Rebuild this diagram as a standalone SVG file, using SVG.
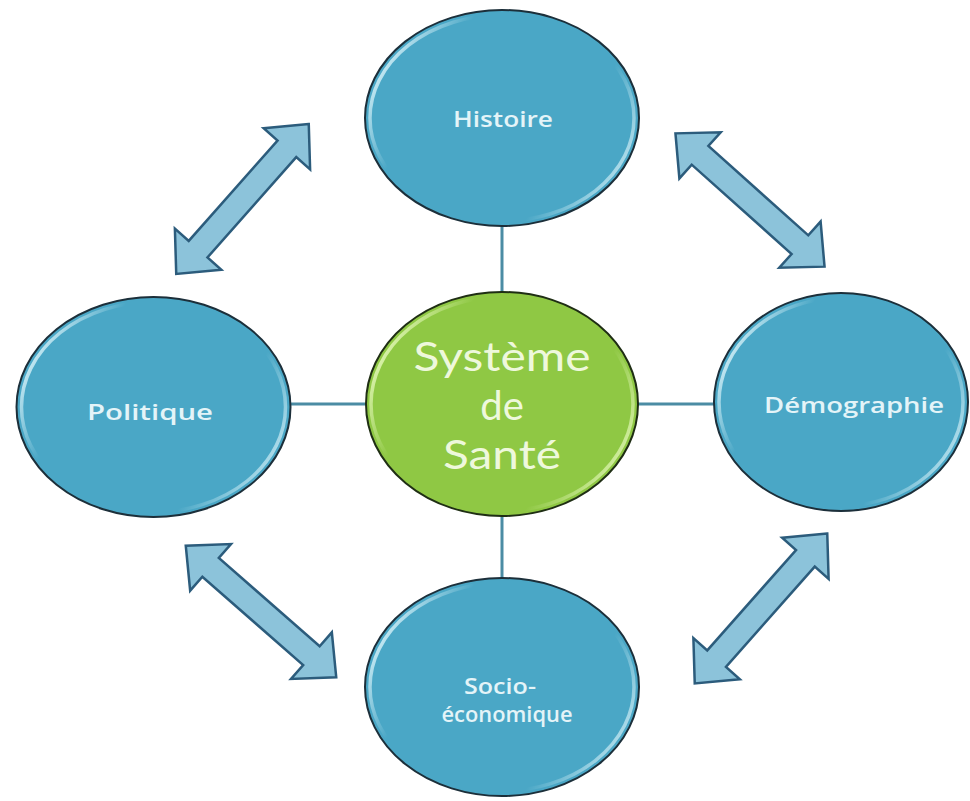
<svg xmlns="http://www.w3.org/2000/svg" xmlns:xlink="http://www.w3.org/1999/xlink" width="970" height="801" viewBox="0 0 970 801">
  <defs>
    <style>
      .blue { fill: #4aa7c6; stroke: #1c2f3a; stroke-width: 2; }
      .green { fill: #8fc844; stroke: #1f2e14; stroke-width: 2; }
      .rim { fill: none; stroke-width: 3.5; }
      .link { stroke: #4b8ca4; stroke-width: 3; fill: none; }
      .dbl { fill: #8cc3da; stroke: #2c5c7c; stroke-width: 2.5; stroke-linejoin: miter; }
      .lbl { font-family: "Open Sans", "Noto Sans", sans-serif; font-size: 21px; font-weight: 600; fill: #e4f4f8; text-anchor: middle; }
      .big { font-family: Lato, "Open Sans", sans-serif; font-size: 40px; fill: #eef8dc; text-anchor: middle; }
    </style>
    <linearGradient id="rimBlue" x1="0" y1="0.3" x2="1" y2="0.75">
      <stop offset="0" stop-color="#e8fbff" stop-opacity="0.85"/>
      <stop offset="0.22" stop-color="#e8fbff" stop-opacity="0"/>
      <stop offset="0.75" stop-color="#e8fbff" stop-opacity="0"/>
      <stop offset="1" stop-color="#e8fbff" stop-opacity="0.75"/>
    </linearGradient>
    <linearGradient id="rimGreen" x1="0" y1="0.3" x2="1" y2="0.75">
      <stop offset="0" stop-color="#efffc8" stop-opacity="0.85"/>
      <stop offset="0.22" stop-color="#efffc8" stop-opacity="0"/>
      <stop offset="0.75" stop-color="#efffc8" stop-opacity="0"/>
      <stop offset="1" stop-color="#efffc8" stop-opacity="0.8"/>
    </linearGradient>
    <!-- double-headed block arrow, 200 long, centred on the origin -->
    <path id="dblArrow" class="dbl" d="M100,0 L67,-31 L67,-12.5 L-67,-12.5 L-67,-31 L-100,0 L-67,31 L-67,12.5 L67,12.5 L67,31 Z"/>
  </defs>

  <rect width="970" height="801" fill="#ffffff"/>

  <!-- straight links from the hub to each satellite -->
  <g id="connectors">
    <line class="link" x1="502" y1="226" x2="502" y2="293"/>
    <line class="link" x1="502" y1="516" x2="502" y2="579"/>
    <line class="link" x1="288" y1="404" x2="367" y2="404"/>
    <line class="link" x1="637" y1="404" x2="716" y2="404"/>
  </g>

  <!-- two-way arrows between neighbouring satellites -->
  <g id="arrows">
    <use xlink:href="#dblArrow" transform="translate(242.5,199) rotate(-48.5)"/>
    <use xlink:href="#dblArrow" transform="translate(750,200) rotate(41.8)"/>
    <use xlink:href="#dblArrow" transform="translate(261,611.5) rotate(41.2)"/>
    <use xlink:href="#dblArrow" transform="translate(761,608.5) rotate(-48.5)"/>
  </g>

  <g id="histoire">
    <ellipse class="blue" cx="502" cy="118" rx="137" ry="108"/>
    <ellipse class="rim" stroke="url(#rimBlue)" cx="502" cy="118" rx="132" ry="103"/>
    <text class="lbl" x="503" y="127" textLength="100" lengthAdjust="spacingAndGlyphs">Histoire</text>
  </g>

  <g id="politique">
    <ellipse class="blue" cx="153.5" cy="407" rx="137" ry="110"/>
    <ellipse class="rim" stroke="url(#rimBlue)" cx="153.5" cy="407" rx="132" ry="105"/>
    <text class="lbl" x="150" y="420" textLength="126" lengthAdjust="spacingAndGlyphs">Politique</text>
  </g>

  <g id="demographie">
    <ellipse class="blue" cx="841" cy="402" rx="127" ry="109"/>
    <ellipse class="rim" stroke="url(#rimBlue)" cx="841" cy="402" rx="122" ry="104"/>
    <text class="lbl" x="854" y="413" textLength="180" lengthAdjust="spacingAndGlyphs">Démographie</text>
  </g>

  <g id="socio-economique">
    <ellipse class="blue" cx="502" cy="687" rx="137" ry="109"/>
    <ellipse class="rim" stroke="url(#rimBlue)" cx="502" cy="687" rx="132" ry="104"/>
    <text class="lbl"><tspan x="500" y="694" textLength="72" lengthAdjust="spacingAndGlyphs">Socio-</tspan><tspan x="507" y="722" textLength="131" lengthAdjust="spacingAndGlyphs">économique</tspan></text>
  </g>

  <g id="systeme-de-sante">
    <ellipse class="green" cx="502" cy="404" rx="136" ry="112"/>
    <ellipse class="rim" stroke="url(#rimGreen)" cx="502" cy="404" rx="131" ry="107"/>
    <text class="big"><tspan x="502" y="371" textLength="177" lengthAdjust="spacingAndGlyphs">Système</tspan><tspan x="502" y="420">de</tspan><tspan x="502" y="469" textLength="118" lengthAdjust="spacingAndGlyphs">Santé</tspan></text>
  </g>
</svg>
